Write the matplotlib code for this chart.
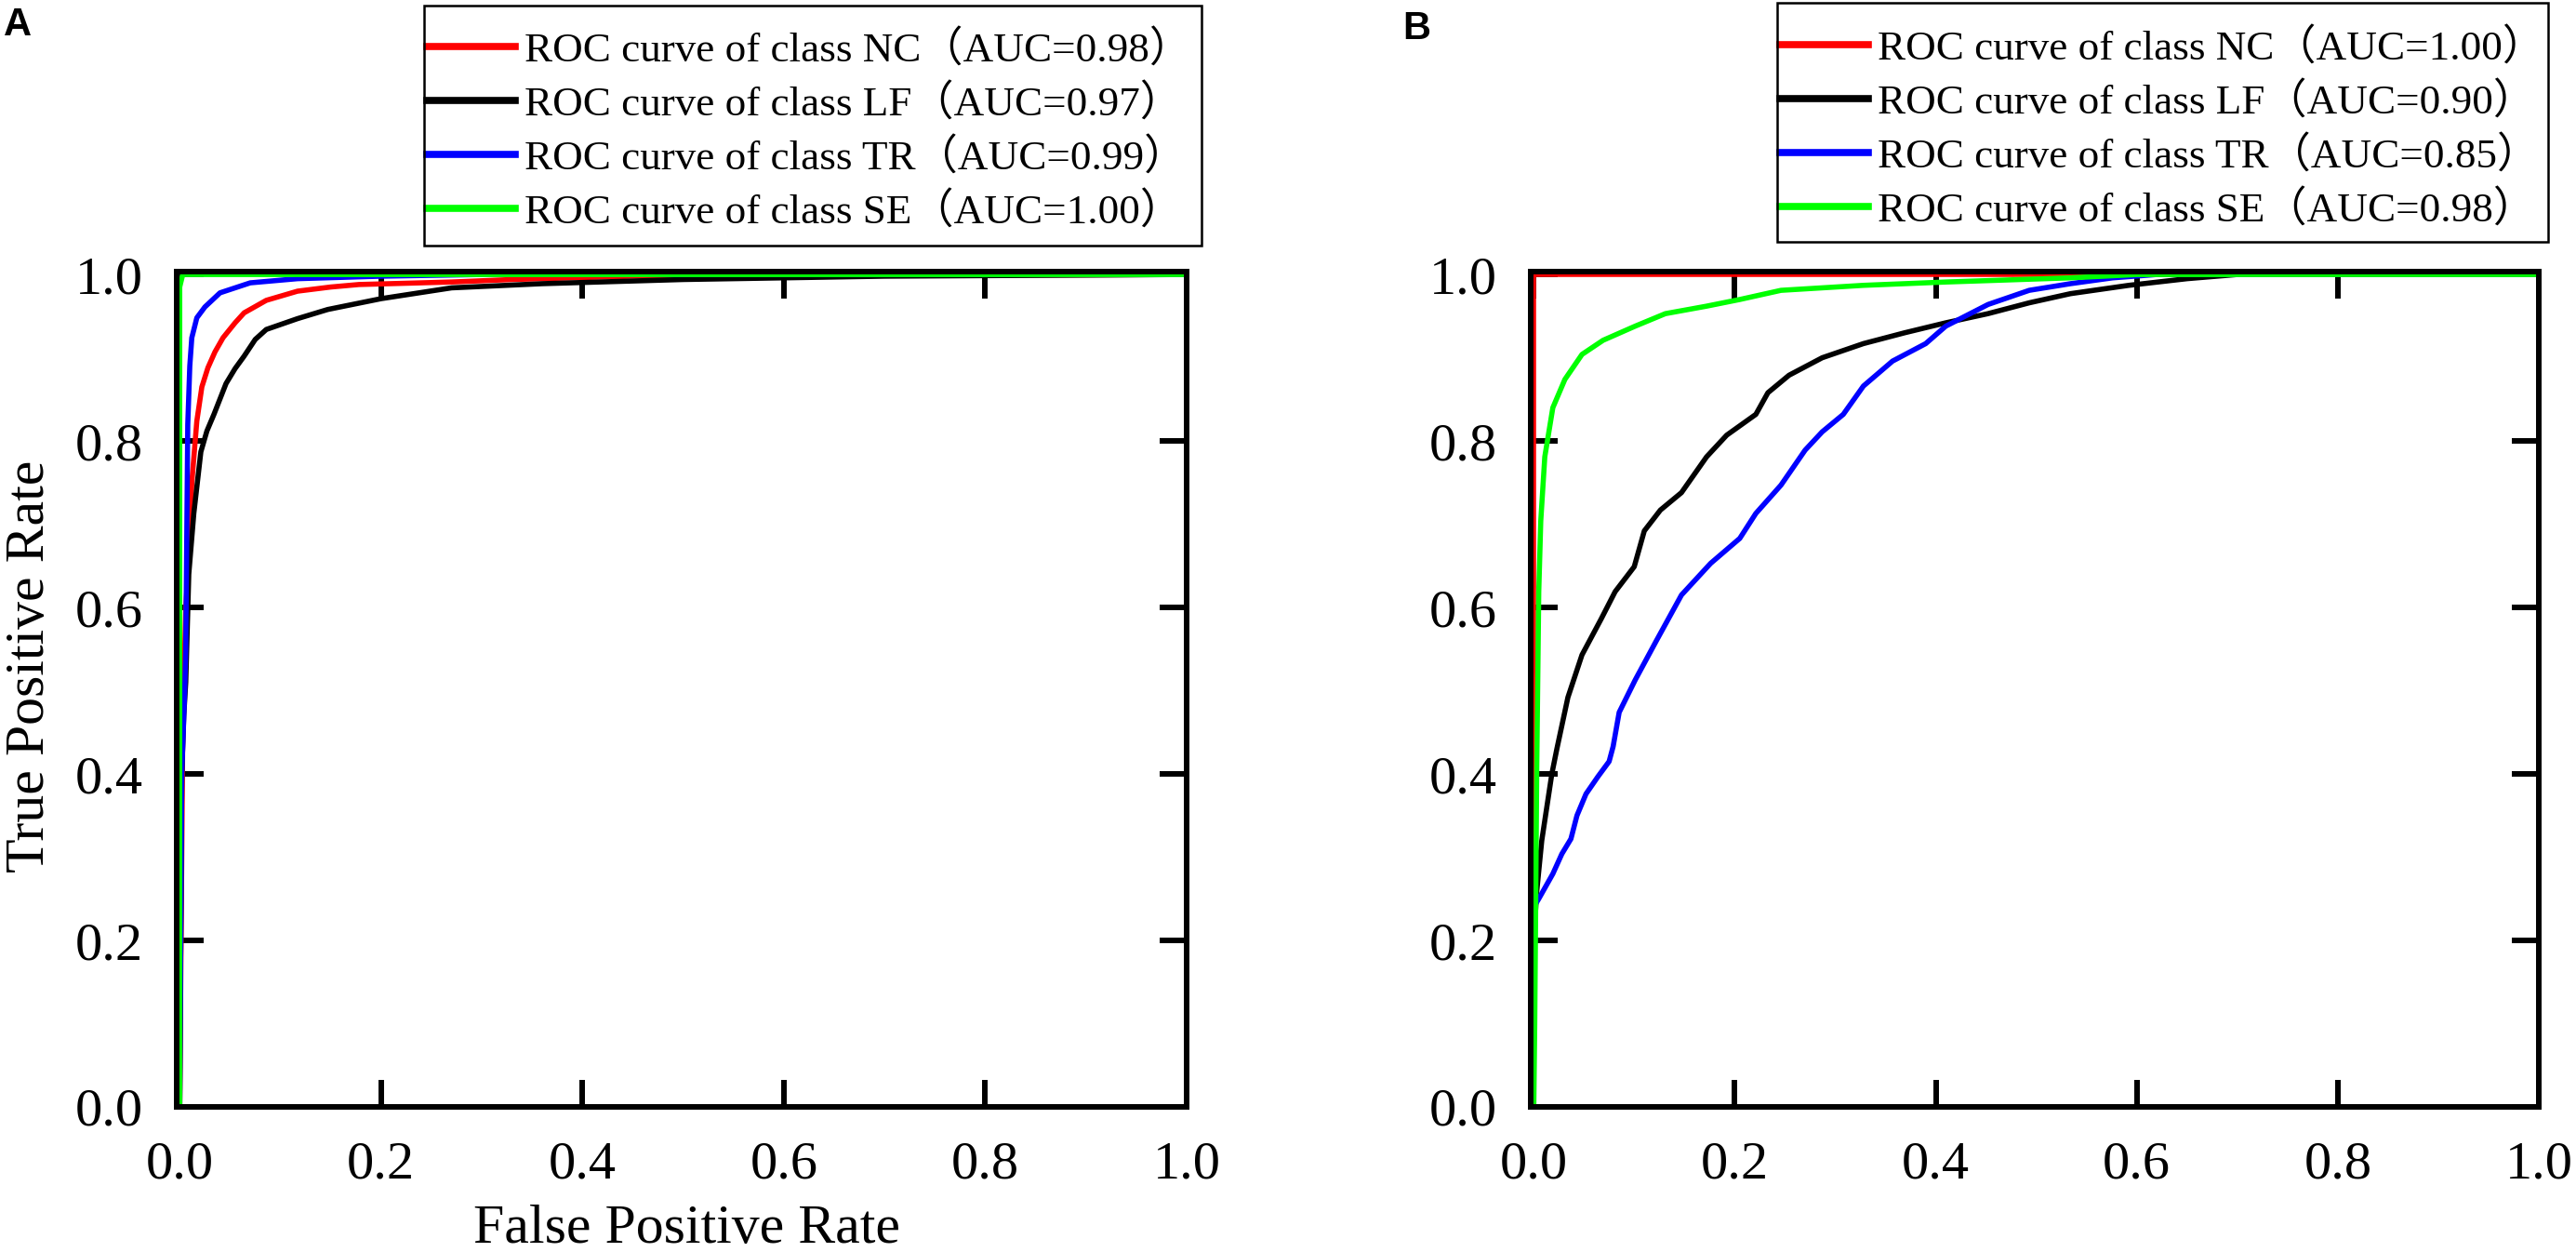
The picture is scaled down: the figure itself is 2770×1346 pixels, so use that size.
import matplotlib
matplotlib.use('Agg')
import matplotlib.pyplot as plt
from matplotlib.patches import Rectangle

plt.rcParams['font.family'] = ['Liberation Serif', 'Noto Sans CJK SC', 'DejaVu Sans']

# ---------------- data ----------------
classes = ['NC', 'LF', 'TR', 'SE']
colors = ['#FF0000', '#000000', '#0000FF', '#00FF00']
auc_A = ['0.98', '0.97', '0.99', '1.00']
auc_B = ['1.00', '0.90', '0.85', '0.98']
tick_vals = [0.0, 0.2, 0.4, 0.6, 0.8, 1.0]
tick_labels = ['0.0', '0.2', '0.4', '0.6', '0.8', '1.0']

# Panel A
A_NC_fpr = [0, 0.003, 0.006, 0.009, 0.012, 0.017, 0.022, 0.028, 0.035, 0.043, 0.055, 0.064, 0.086, 0.117, 0.15, 0.178, 0.27, 0.33, 0.45, 1.0]
A_NC_tpr = [0, 0.45, 0.60, 0.657, 0.75, 0.824, 0.865, 0.888, 0.907, 0.924, 0.942, 0.954, 0.969, 0.980, 0.985, 0.988, 0.991, 0.994, 0.998, 1.0]
A_LF_fpr = [0, 0.002, 0.004, 0.006, 0.009, 0.014, 0.021, 0.027, 0.034, 0.046, 0.055, 0.064, 0.075, 0.086, 0.117, 0.147, 0.2, 0.27, 0.36, 0.5, 0.7, 1.0]
A_LF_tpr = [0, 0.40, 0.47, 0.51, 0.64, 0.713, 0.787, 0.812, 0.832, 0.869, 0.887, 0.902, 0.922, 0.934, 0.947, 0.958, 0.971, 0.984, 0.989, 0.994, 0.998, 1.0]
A_TR_fpr = [0, 0.002, 0.005, 0.006, 0.008, 0.010, 0.012, 0.017, 0.025, 0.04, 0.07, 0.117, 0.2, 0.3, 1.0]
A_TR_tpr = [0, 0.40, 0.50, 0.55, 0.82, 0.89, 0.924, 0.948, 0.961, 0.978, 0.990, 0.995, 0.998, 1.0, 1.0]
A_SE_fpr = [0, 0.0, 0.003, 1.0]
A_SE_tpr = [0, 0.985, 1.0, 1.0]

# Panel B
B_NC_fpr = [0, 0, 1.0]
B_NC_tpr = [0, 1.0, 1.0]
B_LF_fpr = [0, 0.0, 0.003, 0.008, 0.013, 0.018, 0.023, 0.034, 0.048, 0.067, 0.081, 0.1, 0.11, 0.126, 0.147, 0.172, 0.192, 0.221, 0.233, 0.254, 0.287, 0.328, 0.369, 0.41, 0.452, 0.493, 0.534, 0.592, 0.65, 0.7, 1.0]
B_LF_tpr = [0, 0.2, 0.259, 0.32, 0.36, 0.40, 0.43, 0.492, 0.543, 0.586, 0.619, 0.649, 0.692, 0.717, 0.738, 0.781, 0.807, 0.832, 0.858, 0.879, 0.90, 0.917, 0.93, 0.942, 0.953, 0.966, 0.977, 0.987, 0.995, 1.0, 1.0]
B_TR_fpr = [0, 0.0, 0.005, 0.012, 0.019, 0.028, 0.037, 0.043, 0.052, 0.064, 0.075, 0.079, 0.085, 0.101, 0.122, 0.147, 0.176, 0.205, 0.221, 0.246, 0.27, 0.287, 0.308, 0.328, 0.357, 0.39, 0.41, 0.452, 0.493, 0.534, 0.576, 0.62, 1.0]
B_TR_tpr = [0, 0.24, 0.25, 0.265, 0.28, 0.304, 0.322, 0.35, 0.376, 0.397, 0.415, 0.433, 0.474, 0.513, 0.56, 0.615, 0.653, 0.683, 0.713, 0.747, 0.789, 0.811, 0.832, 0.866, 0.896, 0.917, 0.938, 0.964, 0.981, 0.989, 0.996, 1.0, 1.0]
B_SE_fpr = [0, 0.001, 0.002, 0.003, 0.005, 0.007, 0.011, 0.019, 0.031, 0.048, 0.069, 0.101, 0.131, 0.172, 0.205, 0.246, 0.328, 0.41, 0.534, 0.6, 1.0]
B_SE_tpr = [0, 0.10, 0.25, 0.407, 0.619, 0.704, 0.781, 0.84, 0.874, 0.904, 0.921, 0.938, 0.953, 0.962, 0.97, 0.981, 0.987, 0.991, 0.996, 1.0, 1.0]

A_curves = [(A_NC_fpr, A_NC_tpr), (A_LF_fpr, A_LF_tpr), (A_TR_fpr, A_TR_tpr), (A_SE_fpr, A_SE_tpr)]
B_curves = [(B_NC_fpr, B_NC_tpr), (B_LF_fpr, B_LF_tpr), (B_TR_fpr, B_TR_tpr), (B_SE_fpr, B_SE_tpr)]

# ---------------- layout ----------------
W, H = 2770, 1346
fig = plt.figure(figsize=(W / 100, H / 100), dpi=100)


def fx(px):
    return px / W


def fy(py):
    return 1 - py / H


axA = fig.add_axes([fx(190), fy(1190), (1276 - 190) / W, (1190 - 292) / H])
axB = fig.add_axes([fx(1646), fy(1190), (2730 - 1646) / W, (1190 - 292) / H])


def style(ax):
    ax.set_xlim(-0.003, 1.0)
    ax.set_ylim(0.0, 1.0035)
    ax.set_xticks(tick_vals)
    ax.set_xticklabels(tick_labels)
    ax.set_yticks(tick_vals)
    ax.set_yticklabels(tick_labels)
    ax.tick_params(direction='in', length=21, width=4.3, top=True, right=True,
                   labelsize=42, pad=26, colors='black')
    for s in ax.spines.values():
        s.set_linewidth(4.3)
        s.set_color('black')


def draw(ax, curves, aucs, legend_anchor, frame):
    handles = []
    labels = []
    for (fpr, tpr), c, name, a in zip(curves, colors, classes, aucs):
        h, = ax.plot(fpr, tpr, color=c, lw=4.0, zorder=2, solid_joinstyle='round')
        handles.append(h)
        labels.append(f'ROC curve of class {name}（AUC={a}）')
    style(ax)
    leg = ax.legend(handles, labels, loc='upper left',
                    bbox_to_anchor=(fx(legend_anchor[0]), fy(legend_anchor[1])),
                    bbox_transform=fig.transFigure, frameon=False, fontsize=32.5,
                    handlelength=2.1, handletextpad=0.22, labelspacing=0.33,
                    borderpad=0, borderaxespad=0)
    for lh in leg.legend_handles:
        lh.set_linewidth(5.5)
    x0, y0, x1, y1 = frame
    fig.add_artist(Rectangle((fx(x0), fy(y1)), (x1 - x0) / W, (y1 - y0) / H,
                             transform=fig.transFigure, fill=False,
                             edgecolor='black', linewidth=1.8))


draw(axA, A_curves, auc_A, (459, 32), (456, 6, 1292, 264))
draw(axB, B_curves, auc_B, (1914, 30), (1911, 3, 2740, 260))

axA.set_xlabel('False Positive Rate', fontsize=43)
axA.set_ylabel('True Positive Rate', fontsize=43)
axA.xaxis.set_label_coords(0.505, -0.117)
axA.yaxis.set_label_coords(-0.1197, 0.528)

fig.text(fx(4), fy(7), 'A', fontsize=30, fontweight='bold', family='Liberation Sans',
         ha='left', va='top')
fig.text(fx(1508), fy(11), 'B', fontsize=30, fontweight='bold', family='Liberation Sans',
         ha='left', va='top')

fig.savefig('out.png', dpi=100, facecolor='white')
